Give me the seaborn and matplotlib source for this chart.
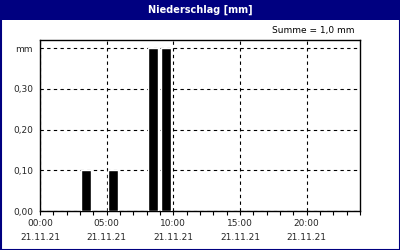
import matplotlib
matplotlib.use("Agg")
import matplotlib.pyplot as plt
import matplotlib.patches as mpatches
import seaborn as sns
import pandas as pd

# Data
hours = [3, 5, 8, 9]                # hour start of each precipitation interval
precip = [0.10, 0.10, 0.40, 0.40]   # mm
tick_hours = [0, 5, 10, 15, 20]
tick_labels = ["00:00\n21.11.21", "05:00\n21.11.21", "10:00\n21.11.21",
               "15:00\n21.11.21", "20:00\n21.11.21"]
y_ticks = [0.0, 0.1, 0.2, 0.3, 0.4]
y_labels = ["0,00", "0,10", "0,20", "0,30", "mm"]
title = "Niederschlag [mm]"
summary = "Summe = 1,0 mm"

sns.set_style("white")
plt.rcParams['font.family'] = ['DejaVu Sans']

navy = "#000080"
fig = plt.figure(figsize=(4, 2.5), dpi=100)
fig.patch.set_facecolor("white")

# title bar and border
fig.add_artist(mpatches.Rectangle((0, 230/250), 1, 20/250, transform=fig.transFigure,
                                  facecolor=navy, edgecolor="none", zorder=0))
fig.add_artist(mpatches.Rectangle((0.5/400, 0.5/250), 399/400, 249/250, transform=fig.transFigure,
                                  facecolor="none", edgecolor=navy, linewidth=1.5, zorder=5))
fig.text(0.5, 240/250, title, color="white", fontsize=7, fontweight="bold",
         ha="center", va="center")
fig.text(355/400, 1 - 31/250, summary, color="black", fontsize=6.5, ha="right", va="center")

ax = fig.add_axes([40/400, 1 - 211/250, 320/400, 171/250])

df = pd.DataFrame({"x": [h + 0.45 for h in hours], "y": precip})
sns.barplot(data=df, x="x", y="y", native_scale=True, width=0.75,
            color="black", saturation=1, ax=ax, zorder=3)

ax.set_xlim(0, 24)
ax.set_ylim(0, 0.42)
ax.set_xticks(tick_hours)
ax.set_xticklabels(tick_labels, fontsize=6.5, linespacing=1.65)
ax.set_xticks(range(0, 25), minor=True)
ax.set_yticks(y_ticks)
ax.set_yticklabels(y_labels, fontsize=6.5)
ax.set_xlabel("")
ax.set_ylabel("")

ax.grid(True, color="black", linestyle=(0, (3, 3)), linewidth=0.8, zorder=1)
ax.set_axisbelow(True)
for s in ax.spines.values():
    s.set_visible(True)
    s.set_color("black")
    s.set_linewidth(1.0)

ax.tick_params(axis="x", which="both", direction="out", length=3, width=0.8,
               color="black", bottom=True, pad=3)
ax.tick_params(axis="y", which="both", length=0, pad=5, left=False)

fig.savefig("out.png", dpi=100)
